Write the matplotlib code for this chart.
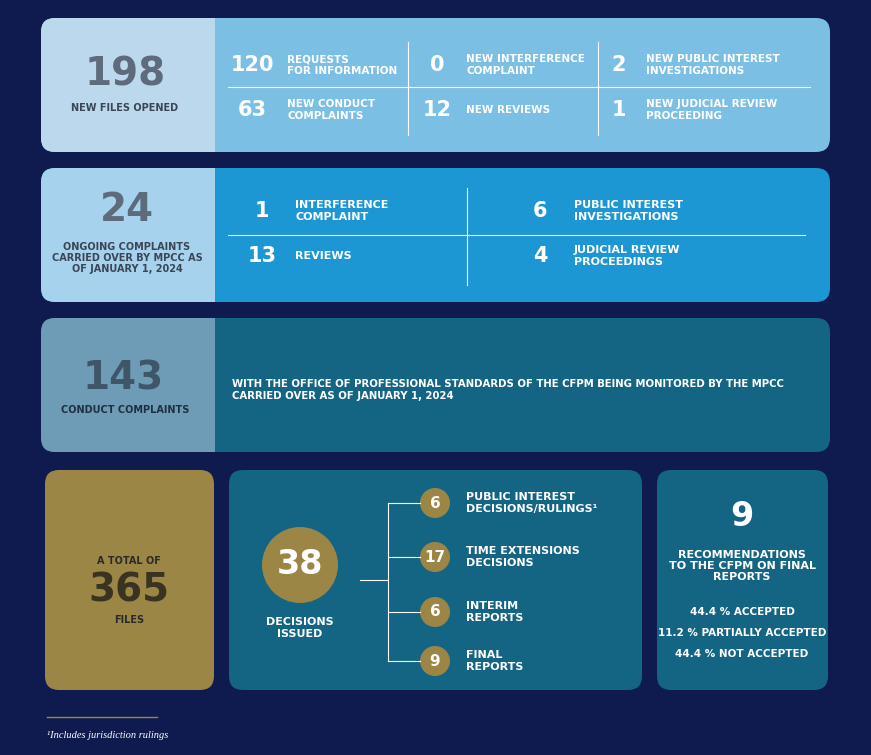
import matplotlib
matplotlib.use('Agg')
import matplotlib.pyplot as plt
from matplotlib.patches import FancyBboxPatch, Rectangle, Circle

# données
new_files_total = 198
new_files = [(120, "REQUESTS\nFOR INFORMATION"), (0, "NEW INTERFERENCE\nCOMPLAINT"),
             (2, "NEW PUBLIC INTEREST\nINVESTIGATIONS"), (63, "NEW CONDUCT\nCOMPLAINTS"),
             (12, "NEW REVIEWS"), (1, "NEW JUDICIAL REVIEW\nPROCEEDING")]
ongoing_total = 24
ongoing = [(1, "INTERFERENCE\nCOMPLAINT"), (6, "PUBLIC INTEREST\nINVESTIGATIONS"),
           (13, "REVIEWS"), (4, "JUDICIAL REVIEW\nPROCEEDINGS")]
conduct_total = 143
total_files = 365
decisions_total = 38
decisions = [(6, "PUBLIC INTEREST\nDECISIONS/RULINGS¹"), (17, "TIME EXTENSIONS\nDECISIONS"),
             (6, "INTERIM\nREPORTS"), (9, "FINAL\nREPORTS")]
recs_total = 9
recs_pct = ["44.4 % ACCEPTED", "11.2 % PARTIALLY ACCEPTED", "44.4 % NOT ACCEPTED"]

BG = '#0f1a4e'
GOLD = '#9c8646'
TEAL = '#146583'
plt.rcParams['font.family'] = ['Liberation Sans Narrow', 'DejaVu Sans']

fig = plt.figure(figsize=(8.71, 7.55), dpi=100, facecolor=BG)
ax = fig.add_axes([0, 0, 1, 1])
ax.set_xlim(0, 871)
ax.set_ylim(755, 0)
ax.axis('off')

def box(x0, y0, x1, y1, color):
    ax.add_patch(FancyBboxPatch((x0, y0), x1 - x0, y1 - y0, boxstyle='round,pad=0,rounding_size=14',
                                fc=color, ec='none'))

def split_row(y0, y1, left, right):
    box(41, y0, 830, y1, right)
    box(41, y0, 215, y1, left)
    ax.add_patch(Rectangle((195, y0), 20, y1 - y0, fc=left, ec='none'))

def t(x, y, s, size=8, color='white', ha='left', weight='bold', **kw):
    ax.text(x, y, s, fontsize=size, color=color, ha=ha, va='center', weight=weight,
            linespacing=1.15, **kw)

# rangée 1
split_row(18, 152, '#bcd8ec', '#7cbfe4')
t(125, 75, str(new_files_total), 28, '#5d6b7c', 'center')
t(125, 108, "NEW FILES OPENED", 7, '#3a4656', 'center')
ax.plot([408, 408], [42, 135], color='white', lw=0.8)
ax.plot([598, 598], [42, 135], color='white', lw=0.8)
ax.plot([228, 810], [87, 87], color='white', lw=0.8)
nx = [252, 437, 619]
lx = [287, 466, 646]
for i, (n, lab) in enumerate(new_files):
    y = 65 if i < 3 else 110
    t(nx[i % 3], y, str(n), 15, ha='center')
    t(lx[i % 3], y, lab, 7.5)

# rangée 2
split_row(168, 302, '#a7d2ee', '#1c97d4')
t(127, 210, str(ongoing_total), 28, '#5d6b7c', 'center')
t(127, 258, "ONGOING COMPLAINTS\nCARRIED OVER BY MPCC AS\nOF JANUARY 1, 2024", 7, '#3a4656', 'center')
ax.plot([467, 467], [188, 285], color='white', lw=0.8)
ax.plot([228, 805], [235, 235], color='white', lw=0.8)
for i, (n, lab) in enumerate(ongoing):
    y = 211 if i < 2 else 256
    t([262, 540][i % 2], y, str(n), 15, ha='center')
    t([295, 574][i % 2], y, lab, 8)

# rangée 3
split_row(318, 452, '#6e9bb5', TEAL)
t(123, 378, str(conduct_total), 28, '#3f5568', 'center')
t(125, 410, "CONDUCT COMPLAINTS", 7, '#1f3040', 'center')
t(232, 390, "WITH THE OFFICE OF PROFESSIONAL STANDARDS OF THE CFPM BEING MONITORED BY THE MPCC\n"
    "CARRIED OVER AS OF JANUARY 1, 2024", 7.3)

# rangée 4
box(45, 470, 214, 690, GOLD)
t(129, 561, "A TOTAL OF", 7, '#2a2a2a', 'center')
t(129, 590, str(total_files), 28, '#3a3320', 'center')
t(129, 620, "FILES", 7, '#2a2a2a', 'center')

box(229, 470, 642, 690, TEAL)
ax.add_patch(Circle((300, 565), 38, fc=GOLD, ec='none'))
t(300, 565, str(decisions_total), 24, ha='center')
t(300, 628, "DECISIONS\nISSUED", 8, ha='center')
ax.plot([360, 388], [580, 580], color='white', lw=0.8)
ys = [503, 557, 612, 661]
ax.plot([388, 388], [ys[0], ys[-1]], color='white', lw=0.8)
for y, (n, lab) in zip(ys, decisions):
    ax.plot([388, 420], [y, y], color='white', lw=0.8)
    ax.add_patch(Circle((435, y), 15, fc=GOLD, ec='none'))
    t(435, y, str(n), 11, ha='center')
    t(466, y, lab, 8)

box(657, 470, 828, 690, TEAL)
t(742, 516, str(recs_total), 24, ha='center')
t(742, 566, "RECOMMENDATIONS\nTO THE CFPM ON FINAL\nREPORTS", 8, ha='center')
for i, s in enumerate(recs_pct):
    t(742, 612 + 21 * i, s, 7.5, ha='center')

# note
ax.plot([47, 157], [717, 717], color=GOLD, lw=1)
ax.text(47, 735, "¹Includes jurisdiction rulings", fontsize=7.5, color='white', style='italic',
        va='center', family=['Liberation Serif', 'DejaVu Serif'])

fig.savefig('out.png', dpi=100, facecolor=BG)
